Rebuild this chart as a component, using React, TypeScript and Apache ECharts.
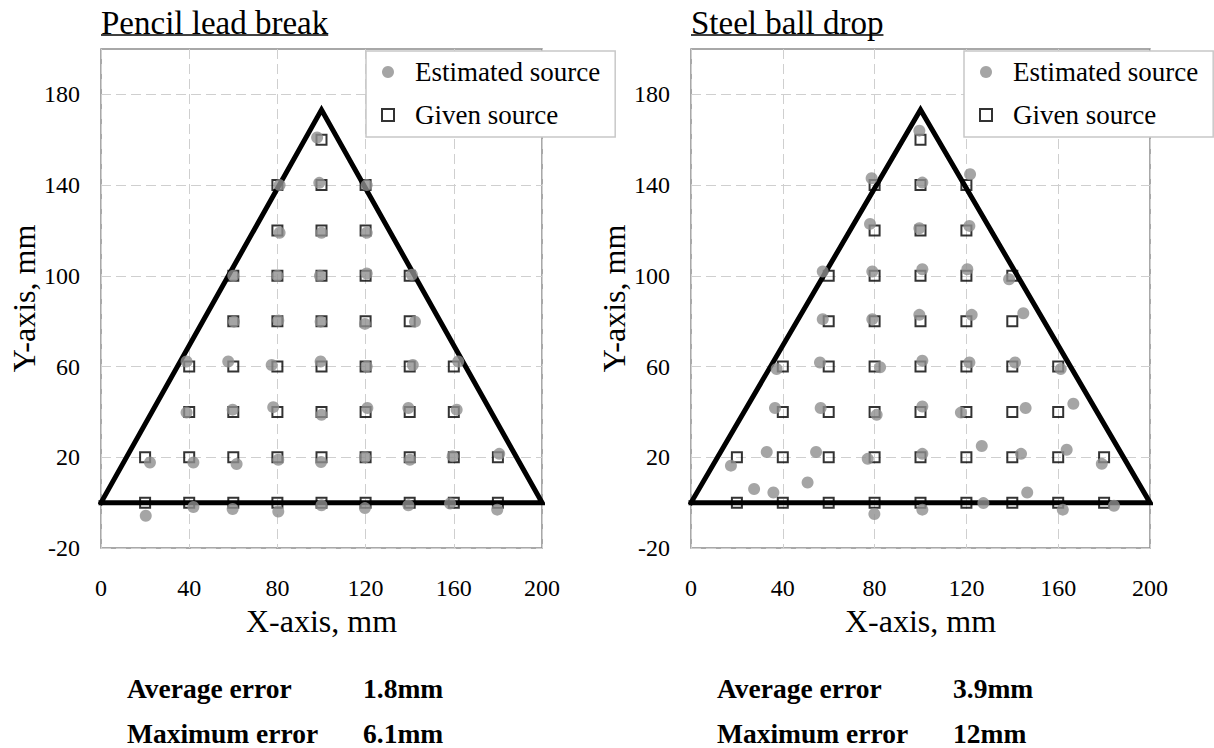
import React, { useEffect, useRef } from 'react';
import * as echarts from 'echarts';

const FONT = 'Liberation Serif';

// ---------- data ----------
const panelTitles = ['Pencil lead break', 'Steel ball drop'];
const legendNames = ['Estimated source', 'Given source'];
const axisNames = ['X-axis, mm', 'Y-axis, mm'];

const xMin = 0;
const xMax = 200;
const xStep = 40;
const yMin = -20;
const yMax = 200;
const yStep = 20;
const yTickLabels = [-20, 20, 60, 100, 140, 180];

// plate outline (equilateral triangle, 200 mm side)
const triangleVertices = [
  [0, 0],
  [100, 173.2],
  [200, 0],
  [0, 0],
];

// given source positions (same for both tests)
const givenSource = [
  [20, 0], [40, 0], [60, 0], [80, 0], [100, 0], [120, 0], [140, 0], [160, 0], [180, 0],
  [20, 20], [40, 20], [60, 20], [80, 20], [100, 20], [120, 20], [140, 20], [160, 20], [180, 20],
  [40, 40], [60, 40], [80, 40], [100, 40], [120, 40], [140, 40], [160, 40],
  [40, 60], [60, 60], [80, 60], [100, 60], [120, 60], [140, 60], [160, 60],
  [60, 80], [80, 80], [100, 80], [120, 80], [140, 80],
  [60, 100], [80, 100], [100, 100], [120, 100], [140, 100],
  [80, 120], [100, 120], [120, 120],
  [80, 140], [100, 140], [120, 140],
  [100, 160],
];

const estimatedPencil = [
  [20.3, -5.8], [41.9, -1.9], [59.7, -2.8], [80.4, -3.9], [100, -1.2], [119.7, -2.4], [139.4, -1.2], [158.3, -0.4], [179.7, -3.1],
  [22.2, 17.7], [41.9, 17.7], [61.5, 17], [80.4, 18.9], [99.8, 17.9], [119.7, 20], [140.1, 18.9], [159.5, 20.5], [180.6, 21.5],
  [38.8, 39.7], [59.7, 41], [78.1, 42.1], [100, 38.7], [120.8, 41.7], [139.4, 41.7], [161.3, 41],
  [38.8, 62.2], [57.7, 62.2], [77.4, 60.7], [99.6, 62.2], [120.5, 60], [141.4, 60.7], [162, 62.2],
  [60.3, 79.8], [80.4, 80.3], [99.6, 79.8], [119.7, 78.8], [142.4, 79.8],
  [60, 100], [80, 100], [99.3, 100], [120.5, 101], [141, 100.5],
  [81, 119], [100, 119], [120.5, 119],
  [81, 140], [99, 141], [120.5, 140],
  [98, 161],
];

const estimatedSteel = [
  [27.5, 6], [35.9, 4.5], [50.8, 8.9], [79.9, -5], [100.8, -3.1], [127.4, -0.2], [146.5, 4.5], [162, -3.1], [184.3, -1.4],
  [17.4, 16.3], [33, 22.3], [54.5, 22.3], [77, 19.3], [100.8, 21.5], [126.7, 25], [143.8, 21.5], [163.7, 23.3], [179, 17.1],
  [36.6, 41.7], [56.5, 41.7], [80.9, 38.7], [100.8, 42.4], [117.6, 39.7], [145.8, 41.7], [166.6, 43.6],
  [37.3, 58.9], [56.2, 61.8], [82.4, 59.7], [100.8, 62.6], [121.3, 61.8], [141.2, 61.8], [161.1, 58.9],
  [57.4, 80.9], [79, 80.9], [99.5, 82.8], [122.3, 82.8], [144.8, 83.5],
  [57.4, 101.9], [79, 101.9], [100.8, 102.9], [120.4, 102.9], [138.6, 98.5],
  [78, 122.9], [99.5, 121], [121.3, 122],
  [78.7, 143], [100.8, 141.1], [121.6, 144.8],
  [99.5, 164],
];

const errorLabels = ['Average error', 'Maximum error'];
const errorsPencil = ['1.8mm', '6.1mm'];
const errorsSteel = ['3.9mm', '12mm'];

const estimatedSets = [estimatedPencil, estimatedSteel];
const errorSets = [errorsPencil, errorsSteel];

// ---------- layout ----------
const grids = [
  { left: 101, top: 49, width: 441, height: 499 },
  { left: 691, top: 49, width: 459, height: 499 },
];
const legendLeft = [366, 964];

function measure(text: string, font: string): number {
  const c = document.createElement('canvas');
  const ctx = c.getContext('2d');
  if (!ctx) return text.length * 14;
  ctx.font = font;
  return ctx.measureText(text).width;
}

export default function App() {
  const ref = useRef<HTMLDivElement>(null);

  useEffect(() => {
    if (!ref.current) return;
    const chart = echarts.init(ref.current, undefined, { renderer: 'svg' });

    const xAxes = grids.map((_, i) => ({
      type: 'value',
      gridIndex: i,
      min: xMin,
      max: xMax,
      interval: xStep,
      name: axisNames[0],
      nameLocation: 'middle',
      nameGap: 53,
      nameTextStyle: { fontFamily: FONT, fontSize: 32, color: '#000' },
      axisLine: { show: false },
      axisTick: { show: false },
      axisLabel: { fontFamily: FONT, fontSize: 24, color: '#000', margin: 28 },
      splitLine: { show: true, lineStyle: { color: '#cfcfcf', width: 1, type: [10, 5] } },
    }));

    const yAxes = grids.map((_, i) => ({
      type: 'value',
      gridIndex: i,
      min: yMin,
      max: yMax,
      interval: yStep,
      name: axisNames[1],
      nameLocation: 'middle',
      nameRotate: 90,
      nameGap: 58,
      nameTextStyle: { fontFamily: FONT, fontSize: 32, color: '#000' },
      axisLine: { show: false },
      axisTick: { show: false },
      axisLabel: {
        fontFamily: FONT,
        fontSize: 24,
        color: '#000',
        margin: 21,
        formatter: (v: number) => (yTickLabels.includes(v) ? String(v) : ''),
      },
      splitLine: {
        show: true,
        lineStyle: { color: ['#cfcfcf', 'rgba(0,0,0,0)'], width: 1, type: [10, 5] },
      },
    }));

    const series: any[] = [];
    grids.forEach((_, i) => {
      series.push({
        type: 'line',
        name: 'outline',
        xAxisIndex: i,
        yAxisIndex: i,
        data: triangleVertices,
        showSymbol: false,
        symbol: 'none',
        lineStyle: { color: '#000', width: 5, join: 'miter', cap: 'square' },
        z: 2,
        silent: true,
      });
      series.push({
        type: 'scatter',
        name: legendNames[1],
        xAxisIndex: i,
        yAxisIndex: i,
        data: givenSource,
        symbol: 'rect',
        symbolSize: 10,
        itemStyle: { color: 'rgba(0,0,0,0)', borderColor: '#000', borderWidth: 2 },
        z: 3,
      });
      series.push({
        type: 'scatter',
        name: legendNames[0],
        xAxisIndex: i,
        yAxisIndex: i,
        data: estimatedSets[i],
        symbol: 'circle',
        symbolSize: 12,
        itemStyle: { color: '#8f8f8f' },
        z: 4,
      });
    });

    const legends = grids.map((_, i) => ({
      show: true,
      orient: 'vertical',
      left: legendLeft[i],
      top: 51,
      padding: [6, 15, 7, 15],
      itemGap: 13,
      itemWidth: 12,
      itemHeight: 12,
      backgroundColor: '#fff',
      borderColor: '#c8c8c8',
      borderWidth: 1.5,
      borderRadius: 0,
      selectedMode: false,
      z: 10,
      data: [
        { name: legendNames[0], icon: 'circle', itemStyle: { color: '#8f8f8f', borderWidth: 0 } },
        { name: legendNames[1], icon: 'rect', itemStyle: { color: '#fff', borderColor: '#000', borderWidth: 2 } },
      ],
      textStyle: { fontFamily: FONT, fontSize: 27, color: '#000', lineHeight: 30, padding: [0, 0, 0, 16] },
    }));

    const graphics: any[] = [];
    grids.forEach((g, i) => {
      const titleFont = `33px ${FONT}`;
      const w = measure(panelTitles[i], titleFont);
      graphics.push({
        type: 'text',
        x: g.left,
        y: 23,
        style: {
          text: panelTitles[i],
          font: titleFont,
          fill: '#000',
          align: 'left',
          verticalAlign: 'middle',
        },
      });
      graphics.push({
        type: 'line',
        shape: { x1: g.left, y1: 35, x2: g.left + w, y2: 35 },
        style: { stroke: '#000', lineWidth: 1.5 },
      });
      errorLabels.forEach((lab, k) => {
        const y = 688 + k * 45;
        graphics.push({
          type: 'text',
          x: g.left + 26,
          y,
          style: { text: lab, font: `bold 27.5px ${FONT}`, fill: '#000', align: 'left', verticalAlign: 'middle' },
        });
        graphics.push({
          type: 'text',
          x: g.left + 262,
          y,
          style: { text: errorSets[i][k], font: `bold 27.5px ${FONT}`, fill: '#000', align: 'left', verticalAlign: 'middle' },
        });
      });
    });

    chart.setOption({
      animation: false,
      backgroundColor: '#fff',
      textStyle: { fontFamily: FONT },
      grid: grids.map((g) => ({
        ...g,
        show: true,
        borderColor: '#8c8c8c',
        borderWidth: 1.5,
        backgroundColor: 'rgba(0,0,0,0)',
      })),
      xAxis: xAxes,
      yAxis: yAxes,
      legend: legends,
      series,
      graphic: graphics,
    });

    return () => chart.dispose();
  }, []);

  return (
    <div
      ref={ref}
      style={{ position: 'fixed', left: 0, top: 0, width: 1214, height: 748, background: '#fff' }}
    />
  );
}
